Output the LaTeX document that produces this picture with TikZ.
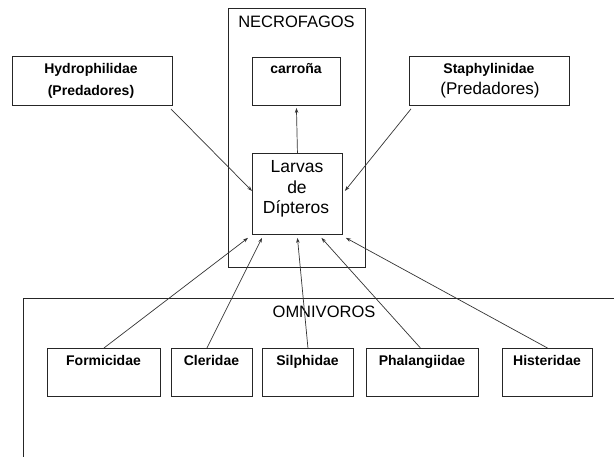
\documentclass[tikz,border=0pt]{standalone}
\usepackage{fontspec}
\setmainfont{Liberation Sans}
\usetikzlibrary{arrows.meta}
\begin{document}
\begin{tikzpicture}[x=1pt,y=-1pt,
  box/.style={draw=black!85,line width=0.9pt,rectangle,inner sep=0pt,anchor=north west},
  bl/.style={inner sep=0pt,anchor=base,font=\fontsize{14}{16}\selectfont\bfseries},
  rg/.style={inner sep=0pt,anchor=base,font=\fontsize{16.5}{19}\selectfont},
  lv/.style={inner sep=0pt,anchor=base,font=\fontsize{17.5}{20}\selectfont},
  arr/.style={draw=black!80,line width=0.7pt,-{Stealth[length=5pt,width=3.5pt]}}]
\useasboundingbox (0,0) rectangle (614,457);
% containers
\node[box,minimum width=137pt,minimum height=259pt] (necro) at (228,8) {};
\node[rg] (necrot) at (296.5,27.5) {NECROFAGOS};
\draw[draw=black!85,line width=0.9pt] (614,298) -- (23,298) -- (23,457);
\node[rg] (omnit) at (324,318) {OMNIVOROS};
% upper boxes
\node[box,minimum width=160pt,minimum height=49pt] (hyd) at (12,56) {};
\node[bl] at (91,74) {Hydrophilidae};
\node[bl] at (91,96) {(Predadores)};
\node[box,minimum width=160pt,minimum height=49pt] (sta) at (409,56) {};
\node[bl] at (489,74) {Staphylinidae};
\node[inner sep=0pt,anchor=base,font=\fontsize{17}{20}\selectfont] at (490,95) {(Predadores)};
\node[box,minimum width=88pt,minimum height=48pt] (car) at (252,57) {};
\node[bl] at (296,74) {carroña};
\node[box,minimum width=90pt,minimum height=81pt] (larv) at (252,153) {};
\node[lv] at (297,172.5) {Larvas};
\node[lv] at (297,193.3) {de};
\node[lv] at (296,213.3) {Dípteros};
% lower boxes
\node[box,minimum width=113pt,minimum height=48pt] (for) at (47,348) {};
\node[bl] at (103.5,366) {Formicidae};
\node[box,minimum width=81pt,minimum height=48pt] (cle) at (171,348) {};
\node[bl] at (211.5,366) {Cleridae};
\node[box,minimum width=91pt,minimum height=48pt] (sil) at (262,348) {};
\node[bl] at (307.5,366) {Silphidae};
\node[box,minimum width=112pt,minimum height=48pt] (pha) at (366,348) {};
\node[bl] at (422,366) {Phalangiidae};
\node[box,minimum width=90pt,minimum height=48pt] (his) at (502,348) {};
\node[bl] at (547,366) {Histeridae};
% arrows
\draw[arr] (larv.north) -- ([yshift=-2pt]car.south);
\draw[arr] ([xshift=-2pt,yshift=-3pt]hyd.south east) -- ([yshift=3pt]larv.west);
\draw[arr] ([xshift=2pt,yshift=-3pt]sta.south west) -- ([xshift=2pt,yshift=3pt]larv.east);
\draw[arr] (for.north) -- ([xshift=-4pt,yshift=-3pt]larv.south west);
\draw[arr] ([xshift=-5pt]cle.north) -- ([xshift=10pt,yshift=-3pt]larv.south west);
\draw[arr] (sil.north) -- ([yshift=-3pt]larv.south);
\draw[arr] ([xshift=-2pt]pha.north) -- ([xshift=24pt,yshift=-3pt]larv.south);
\draw[arr] (his.north) -- ([xshift=3pt,yshift=-3pt]larv.south east);
\end{tikzpicture}
\end{document}
